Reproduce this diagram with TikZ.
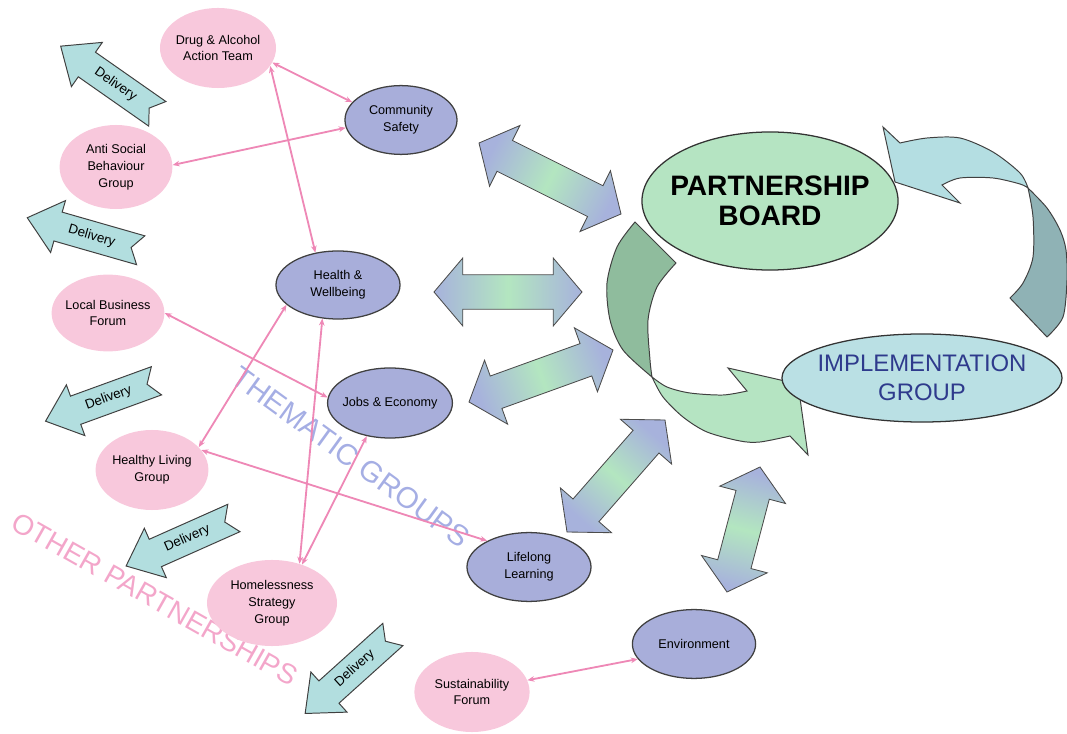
\documentclass[tikz,border=0pt]{standalone}
\usepackage{fontspec}
\setmainfont{Liberation Sans}
\usepackage{tikz}
\usetikzlibrary{shapes, arrows.meta, calc}

\definecolor{pinkfill}{HTML}{F8C8DC}
\definecolor{bluefill}{HTML}{A8AEDA}
\definecolor{pinkline}{HTML}{EE88B6}
\definecolor{delivfill}{HTML}{B2DEDF}
\definecolor{arrblue}{HTML}{A7B2DC}
\definecolor{arrgreen}{HTML}{B3E6C0}
\definecolor{boardgreen}{HTML}{B5E4C2}
\definecolor{darkgreen}{HTML}{8FBC9D}
\definecolor{implteal}{HTML}{BAE0E4}
\definecolor{lightteal}{HTML}{B4DEE2}
\definecolor{darkteal}{HTML}{8FB2B5}
\definecolor{thematic}{HTML}{A5AEE4}
\definecolor{otherpink}{HTML}{F3A6CA}
\definecolor{impltext}{HTML}{2E3A8C}

% notched arrow with its label: name, x, y, angle
\newcommand{\delivery}[4]{%
  \begin{scope}[shift={(#2,#3)}, rotate=#4]
    \draw[delivarrow] (59,0) -- (27,27) -- (27,15) -- (-59,15) -- (-49,0)
      -- (-59,-15) -- (27,-15) -- (27,-27) -- cycle;
    \node[rotate=#4-180, font=\fontsize{9.5}{10}\selectfont] (#1) at (-8,0) {Delivery};
  \end{scope}}

% two-headed block arrow between two tips
\newcommand{\blockarrow}[3]{%
  \draw[blockline, left color=arrblue, right color=arrblue, middle color=arrgreen, shading angle=#3]
    (#1) -- ($(#1)!0.72cm!(#2)!0.85cm!90:(#2)$) -- ($(#1)!0.72cm!(#2)!0.43cm!90:(#2)$)
    -- ($(#2)!0.72cm!(#1)!0.43cm!-90:(#1)$) -- ($(#2)!0.72cm!(#1)!0.85cm!-90:(#1)$)
    -- (#2) -- ($(#2)!0.72cm!(#1)!0.85cm!90:(#1)$) -- ($(#2)!0.72cm!(#1)!0.43cm!90:(#1)$)
    -- ($(#1)!0.72cm!(#2)!0.43cm!-90:(#2)$) -- ($(#1)!0.72cm!(#2)!0.85cm!-90:(#2)$) -- cycle;}

\begin{document}
\begin{tikzpicture}[x=0.025cm, y=-0.025cm,
    pinkbox/.style={ellipse, fill=pinkfill, inner xsep=-6pt, inner ysep=0pt, align=center, font=\fontsize{9}{12}\selectfont},
    bluebox/.style={pinkbox, fill=bluefill, draw=black!75, line width=0.9pt},
    link/.style={draw=pinkline, line width=1.3pt, {Stealth[length=5pt,width=4pt]}-{Stealth[length=5pt,width=4pt]}},
    delivarrow/.style={draw=black!75, line width=0.7pt, fill=delivfill},
    blockline/.style={draw=black!70, line width=0.6pt},
    curveline/.style={draw=black!75, line width=0.7pt}]

\useasboundingbox (0,0) rectangle (1067,734);

% big labels
\node[rotate=-36, text=thematic, font=\fontsize{21}{21}\selectfont] (thematic) at (351,457) {THEMATIC GROUPS};
\node[rotate=-29.5, text=otherpink, font=\fontsize{20}{20}\selectfont] (other) at (155,599) {OTHER PARTNERSHIPS};

% thematic groups
\node[bluebox, minimum width=2.8cm, minimum height=1.72cm] (safety) at (401,120) {Community\\Safety};
\node[bluebox, minimum width=3.1cm, minimum height=1.7cm] (health) at (338,285) {Health \&\\Wellbeing};
\node[bluebox, minimum width=3.12cm, minimum height=1.75cm] (jobs) at (390,403) {Jobs \& Economy};
\node[bluebox, minimum width=3.1cm, minimum height=1.72cm] (lifelong) at (529,567) {Lifelong\\Learning};
\node[bluebox, minimum width=3.08cm, minimum height=1.72cm] (env) at (694,644) {Environment};

% other partnerships
\node[pinkbox, minimum width=2.9cm, minimum height=2cm] (daat) at (218,48) {Drug \& Alcohol\\Action Team};
\node[pinkbox, minimum width=2.82cm, minimum height=2.1cm] (asb) at (116,167) {Anti Social\\Behaviour\\Group};
\node[pinkbox, minimum width=2.82cm, minimum height=1.92cm] (lbf) at (108,313) {Local Business\\Forum};
\node[pinkbox, minimum width=2.82cm, minimum height=2cm] (hlg) at (152,470) {Healthy Living\\Group};
\node[pinkbox, minimum width=3.25cm, minimum height=2.15cm] (hsg) at (272,603) {Homelessness\\Strategy\\Group};
\node[pinkbox, minimum width=2.88cm, minimum height=2cm] (sustain) at (472,692) {Sustainability\\Forum};

\draw[link] (daat.-15) -- (safety.160);
\draw[link] (daat.-19) -- (health.125);
\draw[link] (asb.2) -- (safety.188);
\draw[link] (lbf.0) -- (jobs.175);
\draw[link] (hlg.26) -- (health.201);
\draw[link] (hlg.22) -- (lifelong.148);
\draw[link] (health.245) -- (hsg.55);
\draw[link] (jobs.235) -- (hsg.52);
\draw[link] (env.195) -- (sustain.12);

\delivery{del1}{109}{80}{145}
\delivery{del2}{84}{234}{164}
\delivery{del3}{101}{401}{200}
\delivery{del4}{180}{542}{204}
\delivery{del5}{349}{674}{222}

% block arrows to the board
\coordinate (a1) at (479,143); \coordinate (a2) at (621,214);
\coordinate (b1) at (434,292); \coordinate (b2) at (582,292);
\coordinate (c1) at (469,402); \coordinate (c2) at (613,350);
\coordinate (d1) at (567,532); \coordinate (d2) at (665,420);
\coordinate (e1) at (727,592); \coordinate (e2) at (760,467);
\blockarrow{a1}{a2}{63.4}
\blockarrow{b1}{b2}{90}
\blockarrow{c1}{c2}{109.9}
\blockarrow{d1}{d2}{138.8}
\blockarrow{e1}{e2}{165.2}

% curved arrows
\draw[curveline, fill=darkgreen] (635,222) -- (676,263)
  -- plot[smooth] coordinates {(676,263) (657,287) (648,320) (650,360) (652,377)}
  -- plot[smooth] coordinates {(652,377) (623,350) (610,320) (607,283) (617,247) (635,222)} -- cycle;
\draw[curveline, fill=boardgreen] (652,377)
  -- plot[smooth] coordinates {(652,377) (667,387) (690,393) (723,395) (747,391)}
  -- (728,368) -- (798,384) -- (808,455) -- (790,436)
  -- plot[smooth] coordinates {(790,436) (760,442) (740,441) (707,432) (683,417) (663,397) (652,377)} -- cycle;
\draw[curveline, fill=lightteal] (883,127) -- (895,182) -- (960,203) -- (942,185)
  -- plot[smooth] coordinates {(942,185) (960,178) (993,178) (1020,184) (1028,188)}
  -- plot[smooth] coordinates {(1028,188) (1020,173) (993,152) (960,138) (927,138) (900,143)} -- cycle;
\draw[curveline, fill=darkteal] (1028,188)
  -- plot[smooth] coordinates {(1028,188) (1033,217) (1033,257) (1023,283) (1010,298)}
  -- (1047,337)
  -- plot[smooth] coordinates {(1047,337) (1063,317) (1067,280) (1066,250) (1060,230) (1047,208) (1028,188)} -- cycle;

\node[ellipse, draw=black!80, line width=0.9pt, fill=boardgreen, minimum width=6.4cm, minimum height=3.45cm,
  inner xsep=-14pt, inner ysep=0pt, align=center, font=\bfseries\fontsize{20}{21}\selectfont] (board) at (770,201) {PARTNERSHIP\\BOARD};
\node[ellipse, draw=black!80, line width=0.9pt, fill=implteal, minimum width=7cm, minimum height=2.2cm,
  inner xsep=-12pt, inner ysep=0pt, align=center, text=impltext, font=\fontsize{17}{21}\selectfont] (impl) at (922,378) {IMPLEMENTATION\\GROUP};

\end{tikzpicture}
\end{document}
